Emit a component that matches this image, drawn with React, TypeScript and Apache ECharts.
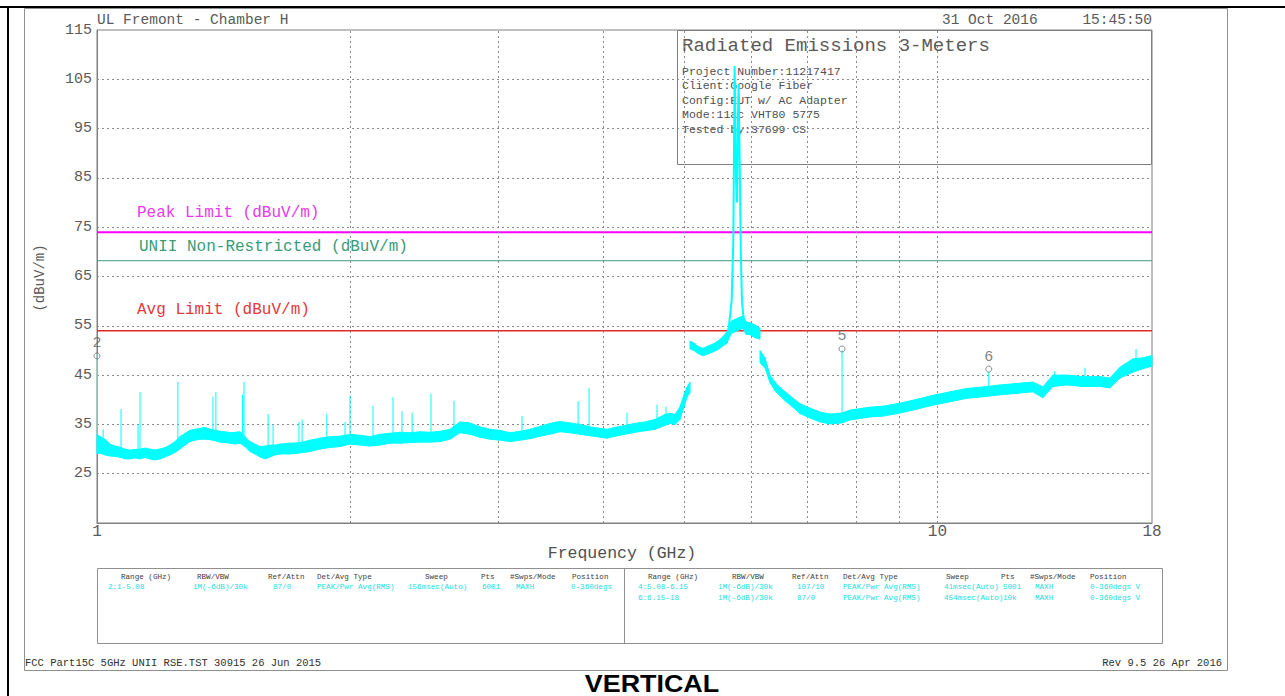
import React, { useEffect, useRef } from 'react';
import * as echarts from 'echarts';

const MONO = '"Liberation Mono", "DejaVu Sans Mono", monospace';
const CYAN = '#00ffff';
const GRAY = '#808080';
const TXT = '#5a5a5a';

// ---- axis values ----
const yTickValues = [25, 35, 45, 55, 65, 75, 85, 95, 105, 115];
const yGridValues = [25, 35, 45, 55, 65, 75, 85, 95, 105];
const xTickValues = [1, 10, 18];
const xGridValues = [2, 3, 4, 5, 6, 7, 8, 9, 10];

// ---- limit lines ----
const limitNames = ['Peak Limit (dBuV/m)', 'UNII Non-Restricted (dBuV/m)', 'Avg Limit (dBuV/m)'];
const limitValues = [74, 68.2, 54];

// ---- trace: [freq GHz, upper edge dBuV/m, lower edge dBuV/m] ----
const band1: [number, number, number][] = [
  [1.000, 33.0, 29.0], [1.008, 32.5, 29.2], [1.022, 32.0, 28.8], [1.036, 31.0, 28.6],
  [1.051, 30.6, 28.5], [1.068, 30.3, 28.3], [1.080, 30.0, 28.0], [1.094, 29.8, 28.0],
  [1.110, 29.9, 28.2], [1.125, 30.0, 28.0], [1.141, 30.2, 28.3], [1.156, 30.0, 28.0],
  [1.172, 29.8, 27.8], [1.188, 30.0, 28.0], [1.205, 30.3, 28.4], [1.221, 30.8, 28.8],
  [1.238, 31.5, 29.3], [1.255, 32.5, 30.0], [1.273, 33.2, 30.8], [1.290, 33.8, 31.5],
  [1.308, 34.0, 31.8], [1.326, 34.2, 32.0], [1.344, 34.4, 32.0], [1.363, 34.0, 31.9],
  [1.382, 33.8, 31.7], [1.401, 33.6, 31.4], [1.420, 33.5, 31.3], [1.439, 33.3, 31.2],
  [1.460, 33.4, 31.0], [1.480, 33.5, 31.2], [1.500, 32.5, 30.5], [1.521, 31.5, 29.5],
  [1.542, 31.0, 29.0], [1.563, 30.5, 28.4], [1.585, 30.6, 28.0], [1.607, 30.8, 28.4],
  [1.628, 30.8, 28.8], [1.651, 31.0, 29.0], [1.697, 31.2, 29.0], [1.744, 31.3, 29.2],
  [1.792, 31.8, 29.5], [1.842, 32.2, 30.0], [1.893, 32.5, 30.3], [1.946, 32.6, 30.5],
  [2.000, 33.0, 31.0], [2.056, 32.8, 30.8], [2.113, 32.5, 30.6], [2.171, 33.0, 30.8],
  [2.232, 33.2, 31.2], [2.294, 33.4, 31.2], [2.357, 33.3, 31.3], [2.423, 33.5, 31.4],
  [2.490, 33.4, 31.4], [2.559, 33.6, 31.5], [2.630, 34.0, 32.0], [2.703, 35.5, 33.3],
  [2.778, 35.3, 33.0], [2.855, 34.5, 32.4], [2.935, 34.0, 32.0], [3.016, 33.8, 31.8],
  [3.100, 33.3, 31.5], [3.186, 33.6, 31.8], [3.275, 34.0, 32.1], [3.366, 34.6, 32.6],
  [3.459, 35.2, 33.0], [3.555, 35.6, 33.5], [3.654, 35.3, 33.3], [3.755, 35.0, 33.0],
  [3.860, 34.5, 32.7], [3.968, 34.2, 32.4], [4.045, 34.0, 32.2], [4.135, 34.4, 32.6],
  [4.249, 34.8, 33.0], [4.367, 35.2, 33.4], [4.487, 35.5, 33.7], [4.612, 36.0, 34.0],
  [4.740, 37.0, 34.8], [4.806, 37.3, 35.2], [4.872, 37.0, 35.0], [4.938, 38.5, 36.0],
  [4.993, 41.0, 38.5], [5.035, 42.5, 40.5], [5.077, 43.6, 41.5],
];
const band2: [number, number, number][] = [
  [5.077, 51.9, 50.3], [5.132, 51.5, 50.0], [5.190, 50.8, 49.4], [5.260, 50.4, 48.9],
  [5.333, 50.9, 49.3], [5.407, 51.3, 49.7], [5.481, 51.9, 50.2], [5.556, 52.8, 50.9],
  [5.618, 53.8, 51.5], [5.648, 55.0, 52.5], [5.690, 56.0, 53.5], [5.780, 56.5, 54.0],
  [5.869, 57.0, 54.5], [5.917, 55.8, 53.3], [5.982, 55.6, 53.2], [6.064, 55.2, 52.6],
  [6.150, 54.5, 52.3],
];
const band3: [number, number, number][] = [
  [6.150, 50.0, 47.5], [6.234, 48.5, 46.5], [6.320, 45.0, 43.5], [6.411, 43.5, 41.8],
  [6.496, 42.5, 40.8], [6.587, 41.6, 39.8], [6.676, 40.8, 39.0], [6.862, 39.2, 37.2],
  [7.053, 38.3, 36.3], [7.249, 37.5, 35.5], [7.450, 37.1, 35.1], [7.700, 37.3, 35.3],
  [7.871, 37.9, 35.9], [8.089, 38.2, 36.2], [8.314, 38.5, 36.5], [8.615, 38.7, 36.7],
  [9.025, 39.3, 37.3], [9.454, 40.1, 38.1], [9.877, 40.9, 38.9], [10.35, 41.6, 39.6],
  [10.84, 42.3, 40.3], [11.33, 42.6, 40.6], [11.87, 43.0, 41.0], [12.43, 43.3, 41.3],
  [12.99, 43.6, 41.6], [13.35, 42.6, 40.4], [13.72, 45.0, 42.7], [14.26, 45.0, 43.0],
  [14.90, 44.7, 42.7], [15.61, 44.7, 42.7], [16.04, 44.4, 42.4], [16.49, 46.6, 44.4],
  [17.08, 48.3, 45.6], [17.56, 48.5, 46.3], [18.00, 49.0, 46.8],
];
// narrow spurs: [freq GHz, base, top]
const spikes: [number, number, number][] = [
  [1.001, 30, 49.5], [1.017, 30, 34], [1.068, 29.5, 38.1], [1.119, 29, 35], [1.125, 29, 41.6],
  [1.248, 30.5, 43.6], [1.374, 32.5, 40.6], [1.385, 32.5, 41.6], [1.490, 31.5, 41],
  [1.496, 31.5, 43.6], [1.598, 29.5, 37.1], [1.620, 29.5, 35], [1.739, 30, 35.5],
  [1.754, 30, 36], [1.877, 31, 37.1], [1.973, 31.5, 35.5], [2.000, 32, 40.8],
  [2.130, 31.5, 38.8], [2.250, 32, 40.5], [2.306, 32, 37.7], [2.371, 32, 37.4],
  [2.497, 32.5, 41.2], [2.659, 33, 39.8], [3.204, 32.5, 36.7], [3.736, 34, 39.7],
  [3.850, 33.5, 42.4], [4.272, 34, 37.4], [4.638, 35, 39], [4.753, 35.5, 38.6],
  [7.700, 36, 50.0], [11.51, 41.5, 45.7], [13.79, 43, 45.8], [14.98, 43, 46.5], [17.23, 46, 50.3],
];
// carrier at 5775 MHz
const carrier: [number, number][] = [
  [5.648, 55], [5.690, 60], [5.716, 72], [5.730, 95], [5.737, 107.7], [5.748, 96],
  [5.760, 84], [5.775, 80], [5.790, 98], [5.800, 104], [5.815, 90], [5.835, 70],
  [5.853, 60], [5.885, 56],
];
// markers
const markerLabels = ['2', '5', '6'];
const markerFreqs = [1.0, 7.70, 11.51];
const markerLevels = [48.9, 50.3, 46.2];

// ---- text content ----
const headerLeft = 'UL Fremont - Chamber H';
const headerDate = '31 Oct 2016';
const headerTime = '15:45:50';
const boxTitle = 'Radiated Emissions 3-Meters';
const boxLines = [
  'Project Number:11217417',
  'Client:Google Fiber',
  'Config:EUT w/ AC Adapter',
  'Mode:11ac VHT80 5775',
  'Tested by:37699 CS',
];
const tableHeaders = ['Range (GHz)', 'RBW/VBW', 'Ref/Attn', 'Det/Avg Type', 'Sweep', 'Pts', '#Swps/Mode', 'Position'];
const leftRows = [
  ['2:1-5.08', '1M(-6dB)/30k', '87/0', 'PEAK/Pwr Avg(RMS)', '156msec(Auto)', '6001', 'MAXH', '0-360degs'],
];
const rightRows = [
  ['4:5.08-6.15', '1M(-6dB)/30k', '107/10', 'PEAK/Pwr Avg(RMS)', '41msec(Auto)', '5001', 'MAXH', '0-360degs V'],
  ['6:6.15-18', '1M(-6dB)/30k', '87/0', 'PEAK/Pwr Avg(RMS)', '454msec(Auto)', '10k', 'MAXH', '0-360degs V'],
];
const footerLeft = 'FCC Part15C 5GHz UNII RSE.TST 30915 26 Jun 2015';
const footerRight = 'Rev 9.5 26 Apr 2016';
const bottomTitle = 'VERTICAL';

function txt(text: string, x: number, y: number, size: number, fill: string, align = 'left', z = 10, rotation = 0) {
  return {
    type: 'text', x, y, z, rotation, silent: true,
    style: { text, fill, fontSize: size, fontFamily: MONO, align, verticalAlign: 'middle' },
  };
}
function ln(x1: number, y1: number, x2: number, y2: number, stroke: string, lineWidth = 1, z = 10) {
  return { type: 'line', z, silent: true, shape: { x1, y1, x2, y2 }, style: { stroke, lineWidth } };
}

function buildOption() {
  const bandSeries = (band: [number, number, number][], id: string) => ({
    type: 'custom', name: id, z: 5, silent: true,
    data: band.map((p) => [p[0], p[1], p[2]]),
    encode: { x: 0, y: [1, 2] },
    renderItem: (params: any, api: any) => {
      const i = params.dataIndex;
      if (i >= band.length - 1) return null;
      const a = band[i];
      const b = band[i + 1];
      const pts = [
        api.coord([a[0], a[1]]), api.coord([b[0], b[1]]),
        api.coord([b[0], b[2]]), api.coord([a[0], a[2]]),
      ];
      return { type: 'polygon', shape: { points: pts }, style: { fill: CYAN, stroke: CYAN, lineWidth: 1 } };
    },
  });
  const spikeData: any[] = [];
  spikes.forEach(([f, b, t]) => { spikeData.push([f, b], [f, t], [f, null]); });

  const limitColors = ['#ff00ff', '#3a9c78', '#e02828'];
  const limitWidths = [2, 1, 1.5];
  const limitSeries = limitNames.map((n, i) => ({
    type: 'line', name: n, data: [[1, limitValues[i]], [18, limitValues[i]]],
    symbol: 'none', lineStyle: { color: limitColors[i], width: limitWidths[i] }, z: 4, silent: true,
  }));

  const cols1H = [121, 197, 268, 317, 425, 481, 510, 572];
  const cols1D = [108, 193, 273, 317, 408, 482, 516, 571];
  const cols2H = [648, 732, 792, 843, 946, 1001, 1030, 1090];
  const cols2D = [638, 718, 797, 843, 944, 1003, 1035, 1090];
  const tableEls: any[] = [];
  tableHeaders.forEach((h, i) => {
    tableEls.push(txt(h, cols1H[i], 577, 7.6, '#404040'));
    tableEls.push(txt(h, cols2H[i], 577, 7.6, '#404040'));
  });
  leftRows.forEach((r, ri) => r.forEach((c, i) => tableEls.push(txt(c, cols1D[i], 587 + ri * 10.5, 7.6, '#20dede'))));
  rightRows.forEach((r, ri) => r.forEach((c, i) => tableEls.push(txt(c, cols2D[i], 587 + ri * 10.5, 7.6, '#20dede'))));

  const limitLabelColors = ['#e83ae8', '#3a9c78', '#e03a3a'];
  const limitLabelPos = [[137, 213], [139, 247], [137, 310]];

  return {
    animation: false,
    backgroundColor: '#ffffff',
    grid: { left: 97, right: 133, top: 30, bottom: 173, show: true, borderColor: GRAY, borderWidth: 1, backgroundColor: 'transparent' },
    xAxis: {
      type: 'log', logBase: 10, min: 1, max: 18,
      axisLine: { show: true, onZero: false, lineStyle: { color: GRAY } },
      axisTick: { show: false },
      splitLine: { show: false },
      minorSplitLine: { show: false },
      axisLabel: {
        customValues: xTickValues, showMinLabel: true, showMaxLabel: true,
        formatter: (v: number) => String(Math.round(v)),
        color: TXT, fontFamily: MONO, fontSize: 16, margin: 1,
      },
    },
    yAxis: {
      type: 'value', min: 15, max: 115,
      axisLine: { show: true, lineStyle: { color: GRAY } },
      axisTick: { show: false },
      splitLine: { show: false },
      axisLabel: { customValues: yTickValues, color: TXT, fontFamily: MONO, fontSize: 15, margin: 5 },
    },
    series: [
      {
        type: 'line', name: 'grid', data: [[1, null]], symbol: 'none', z: 1, silent: true,
        markLine: {
          silent: true, symbol: ['none', 'none'], animation: false,
          label: { show: false },
          lineStyle: { color: '#8a8a8a', type: [2, 3], width: 1 },
          data: [
            ...xGridValues.map((v) => ({ xAxis: v })),
            ...yGridValues.map((v) => ({ yAxis: v })),
          ],
        },
      },
      ...limitSeries,
      bandSeries(band1, 'b1'),
      bandSeries(band2, 'b2'),
      bandSeries(band3, 'b3'),
      {
        type: 'line', name: 'spurs', data: spikeData, symbol: 'none', connectNulls: false,
        lineStyle: { color: CYAN, width: 1 }, z: 5, silent: true,
      },
      {
        type: 'line', name: 'carrier', data: carrier, symbol: 'none',
        lineStyle: { color: CYAN, width: 2 }, z: 5, silent: true,
      },
      {
        type: 'scatter', name: 'markers', z: 6, silent: true, clip: false,
        data: markerFreqs.map((f, i) => ({ value: [f, markerLevels[i]], name: markerLabels[i] })),
        symbol: 'circle', symbolSize: 6,
        itemStyle: { color: 'rgba(0,0,0,0)', borderColor: '#707070', borderWidth: 1 },
        label: { show: true, position: 'top', distance: 1, formatter: (p: any) => p.name, color: '#606060', fontFamily: MONO, fontSize: 15 },
      },
    ],
    graphic: {
      elements: [
        // outer frame
        ln(0, 7, 1285, 7, '#000', 2, 20),
        ln(8, 7, 8, 696, '#000', 2, 20),
        { type: 'rect', z: 0, silent: true, shape: { x: 24.5, y: 8.5, width: 1203, height: 662 }, style: { fill: 'none', stroke: '#909090', lineWidth: 1 } },
        // header
        txt(headerLeft, 97, 20, 14.5, TXT),
        txt(headerDate, 942, 20, 14.5, TXT),
        txt(headerTime, 1152, 20, 14.5, TXT, 'right'),
        // info box
        { type: 'rect', z: 2, silent: true, shape: { x: 677.5, y: 30.5, width: 474, height: 134 }, style: { fill: '#ffffff', stroke: GRAY, lineWidth: 1 } },
        txt(boxTitle, 682, 46, 19, TXT, 'left', 3),
        ...boxLines.map((l, i) => txt(l, 682, 71 + i * 14.5, 11.5, '#505050', 'left', 3)),
        // limit labels
        ...limitNames.map((n, i) => txt(n, limitLabelPos[i][0], limitLabelPos[i][1], 16, limitLabelColors[i])),
        // axis titles
        txt('(dBuV/m)', 40, 278, 14, TXT, 'center', 10, Math.PI / 2),
        txt('Frequency (GHz)', 622, 553, 16.5, '#505050', 'center'),
        // table
        { type: 'rect', z: 2, silent: true, shape: { x: 97.5, y: 568.5, width: 1065, height: 75 }, style: { fill: 'none', stroke: '#909090', lineWidth: 1 } },
        ln(624.5, 568, 624.5, 643, '#909090', 1, 2),
        ...tableEls,
        // footer
        txt(footerLeft, 25, 663, 10.5, '#303030'),
        txt(footerRight, 1222, 663, 10.5, '#303030', 'right'),
        {
          type: 'text', x: 652, y: 684, z: 10, silent: true, scaleX: 1.12,
          style: { text: bottomTitle, fill: '#000', fontSize: 24, fontWeight: 'bold', fontFamily: '"Liberation Sans", Arial, sans-serif', align: 'center', verticalAlign: 'middle' },
        },
      ],
    },
  };
}

export default function App() {
  const ref = useRef<HTMLDivElement>(null);
  useEffect(() => {
    if (!ref.current) return;
    const chart = echarts.init(ref.current, null, { renderer: 'svg' });
    chart.setOption(buildOption() as any);
    return () => chart.dispose();
  }, []);
  return (
    <div
      ref={ref}
      style={{ position: 'fixed', left: 0, top: 0, width: 1285, height: 696, background: '#fff' }}
    />
  );
}
